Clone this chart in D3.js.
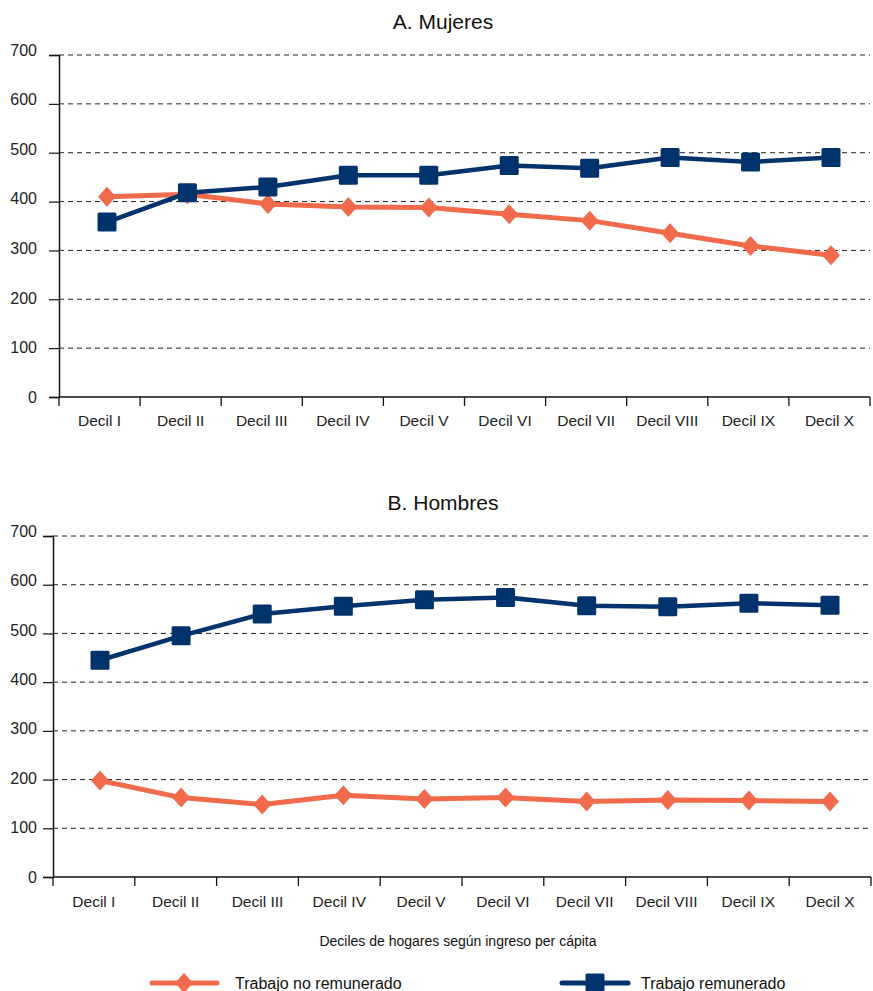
<!DOCTYPE html>
<html><head><meta charset="utf-8">
<script src="https://cdn.jsdelivr.net/npm/d3@7"></script>
<style>
html,body{margin:0;padding:0;background:#fff;}
svg{display:block;font-family:"Liberation Sans",Arial,sans-serif;}
</style></head>
<body>
<svg id="chart" width="873" height="991"></svg>
<script>
const deciles = ["Decil I","Decil II","Decil III","Decil IV","Decil V","Decil VI","Decil VII","Decil VIII","Decil IX","Decil X"];
const yTicks = [0,100,200,300,400,500,600,700];
const mujeresNoRem = [410,415,395,389,388,374,361,335,309,290];
const mujeresRem   = [358,418,430,454,454,474,468,490,481,490];
const hombresNoRem = [198,163,149,168,160,163,155,158,157,155];
const hombresRem   = [445,495,540,556,569,574,557,555,562,558];
const panelTitles = ["A. Mujeres","B. Hombres"];
const seriesNames = ["Trabajo no remunerado","Trabajo remunerado"];
const xTitle = "Deciles de hogares según ingreso per cápita";

const ORANGE = "#F16A4B", BLUE = "#00336B";
const svg = d3.select("#chart");

const panels = [
  {title: panelTitles[0], noRem: mujeresNoRem, rem: mujeresRem,
   left: 59, right: 870, y0: 397, yTop: 55, pts: [107, 831], titleY: 29, tickLabelY: 426},
  {title: panelTitles[1], noRem: hombresNoRem, rem: hombresRem,
   left: 53, right: 871, y0: 877, yTop: 536, pts: [100, 830], titleY: 510, tickLabelY: 907}
];

const diamond = "M0,-10L9,0L0,10L-9,0Z";

panels.forEach(p => {
  const g = svg.append("g");
  const xb = d3.scaleBand().domain(deciles).range([p.left, p.right]);
  const xp = d3.scalePoint().domain(deciles).range(p.pts);
  const y = d3.scaleLinear().domain([0, 700]).range([p.y0, p.yTop]);
  const yLab = d3.scaleLinear().domain([0, 700]).range([p.y0, p.yTop - 5]);

  // title
  g.append("text").attr("x", 443).attr("y", p.titleY).attr("text-anchor","middle")
    .attr("font-size", 21).attr("fill","#111").text(p.title);

  // gridlines
  g.append("g").selectAll("line").data(yTicks.filter(v => v > 0)).join("line")
    .attr("x1", p.left).attr("x2", p.right)
    .attr("y1", d => y(d)).attr("y2", d => y(d))
    .attr("stroke", "#222").attr("stroke-width", 1).attr("stroke-dasharray", "5,4");

  // y axis
  const ya = g.append("g").attr("transform", `translate(${p.left},0)`)
    .call(d3.axisLeft(y).tickValues(yTicks).tickSize(10).tickFormat(""));
  ya.select(".domain").attr("stroke","#111").attr("stroke-width",1.5);
  ya.selectAll(".tick line").attr("stroke","#111").attr("stroke-width",1.2);
  g.append("g").selectAll("text").data(yTicks).join("text")
    .attr("x", 37).attr("y", d => yLab(d)).attr("dy","0.36em")
    .attr("text-anchor","end").attr("font-size", 16).attr("fill","#222").text(d => d);

  // x axis
  g.append("line").attr("x1", p.left).attr("x2", p.right)
    .attr("y1", p.y0).attr("y2", p.y0).attr("stroke","#111").attr("stroke-width",1.6);
  const bounds = deciles.map(d => xb(d)).concat([xb.range()[1]]);
  g.append("g").selectAll("line").data(bounds).join("line")
    .attr("x1", d => d).attr("x2", d => d).attr("y1", p.y0).attr("y2", p.y0 + 9)
    .attr("stroke","#111").attr("stroke-width",1.3);
  g.append("g").selectAll("text").data(deciles).join("text")
    .attr("x", d => xb(d) + xb.bandwidth()/2).attr("y", p.tickLabelY)
    .attr("text-anchor","middle").attr("font-size", 15.5).attr("fill","#222").text(d => d);

  // series
  const line = d3.line().x((d,i) => xp(deciles[i])).y(d => y(d));
  g.append("path").datum(p.noRem).attr("d", line).attr("fill","none")
    .attr("stroke", ORANGE).attr("stroke-width", 5).attr("stroke-linejoin","round");
  g.append("g").selectAll("path").data(p.noRem).join("path")
    .attr("d", diamond).attr("fill", ORANGE)
    .attr("transform", (d,i) => `translate(${xp(deciles[i])},${y(d)})`);

  g.append("path").datum(p.rem).attr("d", line).attr("fill","none")
    .attr("stroke", BLUE).attr("stroke-width", 4.5).attr("stroke-linejoin","round");
  g.append("g").selectAll("rect").data(p.rem).join("rect")
    .attr("x", (d,i) => xp(deciles[i]) - 9.5).attr("y", d => y(d) - 9.5)
    .attr("width", 19).attr("height", 19).attr("rx", 1.5).attr("fill", BLUE);
});

// x axis title
svg.append("text").attr("x", 458).attr("y", 946).attr("text-anchor","middle")
  .attr("font-size", 14).attr("fill","#111").text(xTitle);

// legend
const legend = [
  {name: seriesNames[0], color: ORANGE, x1: 152, x2: 217, mx: 184, text: 235, marker: "diamond"},
  {name: seriesNames[1], color: BLUE, x1: 562, x2: 628, mx: 595, text: 641, marker: "square"}
];
const ly = 983;
legend.forEach(l => {
  svg.append("line").attr("x1", l.x1).attr("x2", l.x2).attr("y1", ly).attr("y2", ly)
    .attr("stroke", l.color).attr("stroke-width", 5).attr("stroke-linecap","round");
  if (l.marker === "diamond") {
    svg.append("path").attr("d", diamond).attr("fill", l.color)
      .attr("transform", `translate(${l.mx},${ly})`);
  } else {
    svg.append("rect").attr("x", l.mx - 9.5).attr("y", ly - 9.5).attr("width", 19).attr("height", 19)
      .attr("rx", 1.5).attr("fill", l.color);
  }
  svg.append("text").attr("x", l.text).attr("y", ly).attr("dy","0.36em")
    .attr("font-size", 16).attr("fill","#111").text(l.name);
});
</script>
</body></html>
